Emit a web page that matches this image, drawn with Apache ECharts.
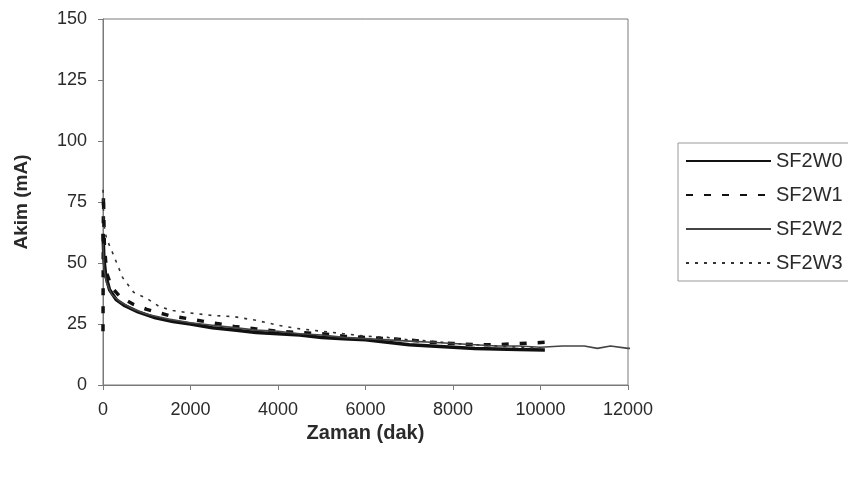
<!DOCTYPE html>
<html>
<head>
<meta charset="utf-8">
<script src="https://cdn.jsdelivr.net/npm/echarts@6/dist/echarts.min.js"></script>
<style>
  html, body { margin: 0; padding: 0; background: #fff; }
  #chart { width: 848px; height: 478px; }
</style>
</head>
<body>
<div id="chart"></div>
<script>
// zaman (dak) / akim (mA) readings per sample
const seriesNames = ['SF2W0', 'SF2W1', 'SF2W2', 'SF2W3']

const timeW0 = [0, 20, 60, 150, 300, 500, 800, 1200, 1600, 2000, 2500, 3000, 3500, 4000, 4500, 5000, 5500, 6000, 6500, 7000, 7500, 8000, 8500, 9000, 9500, 10100]
const valW0 = [62, 52, 45, 39, 35, 32.5, 30, 27.5, 26, 25, 23.5, 22.5, 21.5, 21, 20.5, 19.5, 19, 18.5, 17.5, 16.5, 16, 15.5, 15, 14.8, 14.5, 14.3]

const timeW1 = [0, 10, 30, 80, 200, 400, 700, 1000, 1500, 2000, 2500, 3000, 3500, 4000, 4500, 5000, 5500, 6000, 6500, 7000, 7500, 8000, 8500, 9000, 9500, 10100]
const valW1 = [22, 78, 58, 46, 40, 36, 33, 31, 28.5, 27, 25.5, 24, 23, 22, 21.5, 21, 20, 19.5, 19, 18.5, 17.5, 17, 16.5, 16.5, 17, 17.5]

const timeW2 = [0, 20, 80, 200, 400, 700, 1000, 1500, 2000, 2500, 3000, 3500, 4000, 4500, 5000, 5500, 6000, 6500, 7000, 7500, 8000, 8500, 9000, 9500, 10000, 10500, 11000, 11300, 11600, 12000, 12250]
const valW2 = [58, 48, 42, 37, 34, 31, 29, 27, 25.5, 24.5, 23.5, 22.5, 22, 21, 20.5, 19.5, 19, 18.5, 18, 17.5, 17, 16.5, 16, 16, 15.5, 16, 16, 15, 16, 15, 15]

const timeW3 = [0, 20, 80, 200, 450, 700, 1000, 1300, 1600, 2000, 2500, 3000, 3500, 4000, 4500, 5000, 5500, 6000, 6500, 7000, 7500, 8000, 8500, 9000, 9500, 10000]
const valW3 = [80, 66, 60, 55, 44, 38, 35.5, 32, 30.5, 29.5, 28.5, 28, 26.5, 24.5, 23, 22, 21, 20, 19.5, 18.5, 18, 17, 16.5, 16, 15.5, 15]

const pairs = (t, v) => t.map((x, i) => [x, v[i]])

const chart = echarts.init(document.getElementById('chart'))

const font = 'Arial, "Liberation Sans", sans-serif'
const textColor = '#2a2a2a'
const axisColor = '#7a7a7a'

const option = {
  animation: false,
  backgroundColor: '#fff',
  textStyle: { fontFamily: font },
  grid: {
    left: 103,
    right: 220,
    top: 19,
    bottom: 93,
    show: true,
    borderColor: axisColor,
    borderWidth: 1
  },
  legend: {
    orient: 'vertical',
    left: 678,
    top: 143,
    padding: [8, 40, 8, 7],
    itemWidth: 85,
    itemHeight: 14,
    itemGap: 14,
    borderColor: '#999',
    borderWidth: 1,
    itemStyle: { opacity: 0 },
    textStyle: { color: textColor, fontSize: 20, fontFamily: font },
    data: seriesNames
  },
  xAxis: {
    type: 'value',
    min: 0,
    max: 12000,
    interval: 2000,
    name: 'Zaman (dak)',
    nameLocation: 'middle',
    nameGap: 38,
    nameTextStyle: { color: textColor, fontSize: 20, fontWeight: 'bold' },
    axisLine: { lineStyle: { color: axisColor } },
    axisTick: { lineStyle: { color: axisColor }, length: 5 },
    axisLabel: { color: textColor, fontSize: 18, margin: 16, formatter: (v) => String(v) },
    splitLine: { show: false }
  },
  yAxis: {
    type: 'value',
    min: 0,
    max: 150,
    interval: 25,
    name: 'Akim (mA)',
    nameLocation: 'middle',
    nameGap: 72,
    nameTextStyle: { color: textColor, fontSize: 19, fontWeight: 'bold' },
    axisLine: { show: true, lineStyle: { color: axisColor } },
    axisTick: { show: true, lineStyle: { color: axisColor }, length: 5 },
    axisLabel: { color: textColor, fontSize: 18, margin: 16 },
    splitLine: { show: false }
  },
  series: [
    {
      name: 'SF2W0',
      type: 'line',
      symbol: 'none',
      data: pairs(timeW0, valW0),
      lineStyle: { color: '#111', width: 3.5 },
      itemStyle: { color: '#111' }
    },
    {
      name: 'SF2W1',
      type: 'line',
      symbol: 'none',
      data: pairs(timeW1, valW1),
      lineStyle: { color: '#111', width: 3.5, type: [7, 11] },
      itemStyle: { color: '#111' }
    },
    {
      name: 'SF2W2',
      type: 'line',
      symbol: 'none',
      clip: false,
      data: pairs(timeW2, valW2),
      lineStyle: { color: '#444', width: 1.6 },
      itemStyle: { color: '#444' }
    },
    {
      name: 'SF2W3',
      type: 'line',
      symbol: 'none',
      data: pairs(timeW3, valW3),
      lineStyle: { color: '#333', width: 1.6, type: [3, 6] },
      itemStyle: { color: '#333' }
    }
  ]
}

chart.setOption(option)
</script>
</body>
</html>
